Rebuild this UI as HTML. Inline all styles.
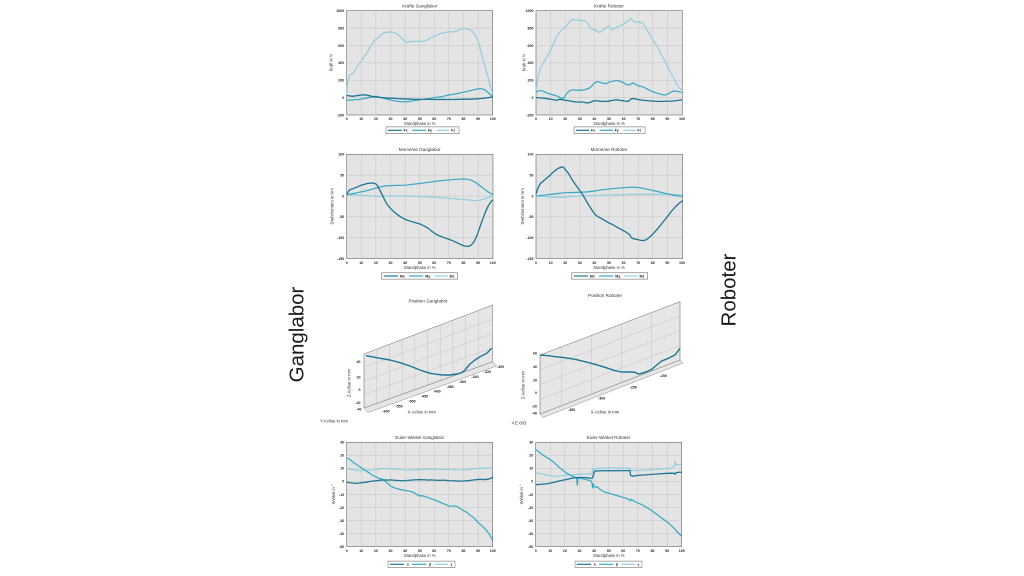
<!DOCTYPE html>
<html><head><meta charset="utf-8"><style>
html,body{margin:0;padding:0;background:#fff;}
svg{display:block;}
text{font-family:"Liberation Sans",sans-serif;}
.t{font-size:4.6px;fill:#333;text-anchor:middle}
.yl{font-size:3.6px;fill:#222;text-anchor:end;font-weight:bold}
.xl{font-size:3.6px;fill:#222;text-anchor:middle;font-weight:bold}
.al{font-size:4.2px;fill:#333;text-anchor:middle}
.lg{font-size:3.6px;fill:#222;font-weight:bold}
.bg{fill:#e4e4e4;stroke:#666;stroke-width:0.6}
.g{stroke:#c3c3c3;stroke-width:0.5;fill:none}
.d{fill:none;stroke:#1c7594;stroke-width:1.3;vector-effect:non-scaling-stroke;stroke-linejoin:round}
.m{fill:none;stroke:#36a7c4;stroke-width:1.2;vector-effect:non-scaling-stroke;stroke-linejoin:round}
.l{fill:none;stroke:#90cee0;stroke-width:1.2;vector-effect:non-scaling-stroke;stroke-linejoin:round}
.big{font-size:20.5px;fill:#1a1a1a;text-anchor:middle}
.wall{fill:#e6e6e6;stroke:#8a8a8a;stroke-width:0.5}
</style></head><body>
<svg width="1024" height="576" viewBox="0 0 1024 576" xmlns="http://www.w3.org/2000/svg">
<rect width="1024" height="576" fill="#fff"/>

<text class="big" transform="translate(303.3,334.5) rotate(-90)">Ganglabor</text>
<text class="big" transform="translate(735.5,290) rotate(-90)">Roboter</text>

<!-- A -->
<g transform="translate(346.7,10.7)">
<rect class="bg" x="0" y="0" width="146" height="104.3"/>
<path class="g" d="M14.6 0V104.3M29.2 0V104.3M43.8 0V104.3M58.4 0V104.3M73 0V104.3M87.6 0V104.3M102.2 0V104.3M116.8 0V104.3M131.4 0V104.3M0 17.38H146M0 34.77H146M0 52.15H146M0 69.53H146M0 86.92H146"/>
<text class="t" x="73" y="-3.2">Kräfte Ganglabor</text>
<text class="yl" x="-2.5" y="1.3">1000</text><text class="yl" x="-2.5" y="18.7">800</text><text class="yl" x="-2.5" y="36.1">600</text><text class="yl" x="-2.5" y="53.5">400</text><text class="yl" x="-2.5" y="70.8">200</text><text class="yl" x="-2.5" y="88.2">0</text><text class="yl" x="-2.5" y="105.6">-200</text>
<text class="xl" x="0" y="109.3">0</text><text class="xl" x="14.6" y="109.3">10</text><text class="xl" x="29.2" y="109.3">20</text><text class="xl" x="43.8" y="109.3">30</text><text class="xl" x="58.4" y="109.3">40</text><text class="xl" x="73" y="109.3">50</text><text class="xl" x="87.6" y="109.3">60</text><text class="xl" x="102.2" y="109.3">70</text><text class="xl" x="116.8" y="109.3">80</text><text class="xl" x="131.4" y="109.3">90</text><text class="xl" x="146" y="109.3">100</text>
<text class="al" x="73" y="114.3">Standphase in %</text>
<text class="al" transform="translate(-14,52) rotate(-90)">Kraft in N</text>
<g transform="translate(0,86.917) scale(1.46,-0.086917)">
<polyline class="l" points="0,40 0.5,150 1,200 2,250 3,270 4,275 5,290 6,320 8,380 10,420 12,470 14,520 16,580 18,630 19,660 20,670 21,680 22,690 23,720 25,740 27,752 30,755 32,752 34,740 36,710 38,680 40,645 42,640 44,648 46,645 48,650 50,645 52,648 54,655 56,670 58,690 60,705 62,720 64,735 66,745 68,752 70,755 72,758 74,760 76,768 78,785 80,795 82,795 84,785 86,765 88,720 90,650 91,600 92,530 93,460 94,400 95,350 96,280 97,220 98,150 99,90 100,50"/>
<polyline class="m" points="0,-35 2,-25 4,-30 6,-20 8,-25 10,-15 12,-10 15,0 18,10 20,15 22,8 25,-5 28,-20 30,-28 33,-38 36,-45 40,-50 43,-45 46,-35 50,-25 54,-15 58,-5 62,5 66,15 70,30 74,40 78,55 82,70 86,85 89,98 91,102 93,100 95,85 97,55 99,25 100,10"/>
<polyline class="d" points="0,25 2,20 4,15 6,20 8,25 10,30 12,32 14,28 16,20 18,12 20,8 24,0 28,-5 32,-8 36,-12 40,-15 44,-18 48,-20 52,-20 56,-20 60,-22 64,-20 68,-22 72,-22 76,-20 80,-18 84,-18 88,-15 92,-10 95,-5 97,0 100,8"/>
</g>
<g transform="translate(39.3,116.2) scale(0.973,1)">
<rect x="0" y="0" width="75" height="6.8" fill="#fff" stroke="#555" stroke-width="0.5"/>
<line x1="2" y1="3.4" x2="16" y2="3.4" stroke="#1c7594" stroke-width="1.2"/><text class="lg" x="18" y="4.7">Fx</text>
<line x1="27" y1="3.4" x2="41" y2="3.4" stroke="#36a7c4" stroke-width="1.2"/><text class="lg" x="43" y="4.7">Fy</text>
<line x1="52" y1="3.4" x2="65" y2="3.4" stroke="#90cee0" stroke-width="1.2"/><text class="lg" x="67" y="4.7">Fz</text>
</g>
</g>

<!-- B -->
<g transform="translate(536,10.7)">
<rect class="bg" x="0" y="0" width="146.3" height="104.3"/>
<path class="g" d="M14.6 0V104.3M29.2 0V104.3M43.8 0V104.3M58.4 0V104.3M73 0V104.3M87.6 0V104.3M102.2 0V104.3M116.8 0V104.3M131.4 0V104.3M0 17.38H146M0 34.77H146M0 52.15H146M0 69.53H146M0 86.92H146"/>
<text class="t" x="73" y="-3.2">Kräfte Roboter</text>
<text class="yl" x="-2.5" y="1.3">1000</text><text class="yl" x="-2.5" y="18.7">800</text><text class="yl" x="-2.5" y="36.1">600</text><text class="yl" x="-2.5" y="53.5">400</text><text class="yl" x="-2.5" y="70.8">200</text><text class="yl" x="-2.5" y="88.2">0</text><text class="yl" x="-2.5" y="105.6">-200</text>
<text class="xl" x="0" y="109.3">0</text><text class="xl" x="14.6" y="109.3">10</text><text class="xl" x="29.2" y="109.3">20</text><text class="xl" x="43.8" y="109.3">30</text><text class="xl" x="58.4" y="109.3">40</text><text class="xl" x="73" y="109.3">50</text><text class="xl" x="87.6" y="109.3">60</text><text class="xl" x="102.2" y="109.3">70</text><text class="xl" x="116.8" y="109.3">80</text><text class="xl" x="131.4" y="109.3">90</text><text class="xl" x="146" y="109.3">100</text>
<text class="al" x="73" y="114.3">Standphase in %</text>
<text class="al" transform="translate(-10.5,52) rotate(-90)">Kraft in N</text>
<g transform="translate(0,86.917) scale(1.463,-0.086917)">
<polyline class="l" points="0,80 1,200 2,280 3,340 5,400 7,450 10,550 12,620 14,700 16,750 18,790 20,815 22,850 24,890 26,900 28,895 30,885 32,890 34,875 35,860 36,840 37,800 38,790 40,780 42,760 43,750 45,765 47,800 49,820 50,825 51,800 52,780 53,790 55,810 57,820 60,850 62,870 64,900 65,910 66,890 67,870 69,870 71,870 73,860 75,800 78,720 80,660 83,590 85,520 88,420 90,360 92,290 94,230 96,160 98,110 100,85"/>
<polyline class="m" points="0,60 2,80 4,80 6,65 8,50 10,40 12,30 15,15 17,-5 18,-12 19,0 20,20 21,50 23,80 25,90 28,85 31,85 34,95 36,105 38,130 40,170 42,185 44,175 46,165 48,160 50,180 52,185 54,195 56,195 58,185 60,170 62,150 64,145 66,170 68,155 70,135 72,130 74,115 76,100 78,80 80,65 82,55 84,45 86,35 88,30 90,40 92,60 94,75 96,75 98,65 100,60"/>
<polyline class="d" points="0,0 3,-3 6,-8 9,-15 12,-25 14,-30 16,-20 18,-25 20,-30 22,-35 25,-45 28,-50 31,-50 33,-55 35,-62 37,-55 39,-40 41,-35 43,-40 45,-45 47,-40 49,-45 51,-35 53,-30 55,-25 57,-30 59,-35 61,-40 63,-45 65,-15 67,-10 69,-20 71,-25 73,-30 76,-35 80,-40 84,-45 88,-42 92,-40 96,-35 100,-25"/>
</g>
<g transform="translate(38,116.2) scale(0.947,1)">
<rect x="0" y="0" width="75" height="6.8" fill="#fff" stroke="#555" stroke-width="0.5"/>
<line x1="2" y1="3.4" x2="16" y2="3.4" stroke="#1c7594" stroke-width="1.2"/><text class="lg" x="18" y="4.7">Fx</text>
<line x1="27" y1="3.4" x2="41" y2="3.4" stroke="#36a7c4" stroke-width="1.2"/><text class="lg" x="43" y="4.7">Fy</text>
<line x1="52" y1="3.4" x2="65" y2="3.4" stroke="#90cee0" stroke-width="1.2"/><text class="lg" x="67" y="4.7">Fz</text>
</g>
</g>

<!-- C -->
<g transform="translate(346.7,154.3)">
<rect class="bg" x="0" y="0" width="146.3" height="104.3"/>
<path class="g" d="M14.6 0V104.3M29.2 0V104.3M43.8 0V104.3M58.4 0V104.3M73 0V104.3M87.6 0V104.3M102.2 0V104.3M116.8 0V104.3M131.4 0V104.3M0 20.86H146M0 41.72H146M0 62.58H146M0 83.44H146"/>
<text class="t" x="73" y="-3.2">Momente Ganglabor</text>
<text class="yl" x="-2.5" y="1.3">100</text><text class="yl" x="-2.5" y="22.2">50</text><text class="yl" x="-2.5" y="43">0</text><text class="yl" x="-2.5" y="63.9">-50</text><text class="yl" x="-2.5" y="84.7">-100</text><text class="yl" x="-2.5" y="105.6">-150</text>
<text class="xl" x="0" y="109.5">0</text><text class="xl" x="14.6" y="109.5">10</text><text class="xl" x="29.2" y="109.5">20</text><text class="xl" x="43.8" y="109.5">30</text><text class="xl" x="58.4" y="109.5">40</text><text class="xl" x="73" y="109.5">50</text><text class="xl" x="87.6" y="109.5">60</text><text class="xl" x="102.2" y="109.5">70</text><text class="xl" x="116.8" y="109.5">80</text><text class="xl" x="131.4" y="109.5">90</text><text class="xl" x="146" y="109.5">100</text>
<text class="al" x="73" y="114.5">Standphase in %</text>
<text class="al" transform="translate(-13,52) rotate(-90)">Drehmoment in Nm</text>
<g transform="translate(0,41.72) scale(1.463,-0.4172)">
<polyline class="l" points="0,3 5,3 10,2 15,1 20,-1 25,-0.5 30,0.5 35,0 40,0 45,-0.5 50,-1 55,-2 60,-3 65,-4 70,-5.5 75,-7 80,-8.5 85,-10 88,-11 91,-10 94,-7 97,-3 100,0"/>
<polyline class="m" points="0,3 3,5 6,7 10,10 14,13 18,17 22,21 26,24 30,25 35,25.5 40,26 45,28 50,30 55,32.5 60,35 65,37 70,38.5 75,40 80,41 83,40 85,38 88,33 91,25 94,17 97,9 100,3"/>
<polyline class="d" points="0,3 1,10 2,15 4,17 6,20 8,23 10,26 12,28 14,30 16,31 18,31 19,30 20,29 21,25 22,18 24,5 26,-10 28,-22 30,-30 33,-40 36,-48 40,-56 43,-60 46,-63 50,-67 53,-72 56,-78 58,-84 60,-89 63,-95 66,-99 70,-104 73,-108 76,-113 79,-118 81,-120 83,-121 85,-118 87,-110 89,-95 91,-75 93,-55 95,-37 97,-22 99,-12 100,-9"/>
</g>
<g transform="translate(35,118.5) scale(1.013,1)">
<rect x="0" y="0" width="75" height="6.3" fill="#fff" stroke="#555" stroke-width="0.5"/>
<line x1="2" y1="3.2" x2="16" y2="3.2" stroke="#1c7594" stroke-width="1.2"/><text class="lg" x="18" y="4.5">Mx</text>
<line x1="27" y1="3.2" x2="41" y2="3.2" stroke="#36a7c4" stroke-width="1.2"/><text class="lg" x="43" y="4.5">My</text>
<line x1="52" y1="3.2" x2="65" y2="3.2" stroke="#90cee0" stroke-width="1.2"/><text class="lg" x="67" y="4.5">Mz</text>
</g>
</g>

<!-- D -->
<g transform="translate(536,154.3)">
<rect class="bg" x="0" y="0" width="146.7" height="104.3"/>
<path class="g" d="M14.6 0V104.3M29.2 0V104.3M43.8 0V104.3M58.4 0V104.3M73 0V104.3M87.6 0V104.3M102.2 0V104.3M116.8 0V104.3M131.4 0V104.3M0 20.86H146M0 41.72H146M0 62.58H146M0 83.44H146"/>
<text class="t" x="73" y="-3.2">Momente Roboter</text>
<text class="yl" x="-2.5" y="1.3">100</text><text class="yl" x="-2.5" y="22.2">50</text><text class="yl" x="-2.5" y="43">0</text><text class="yl" x="-2.5" y="63.9">-50</text><text class="yl" x="-2.5" y="84.7">-100</text><text class="yl" x="-2.5" y="105.6">-150</text>
<text class="xl" x="0" y="109.5">0</text><text class="xl" x="14.6" y="109.5">10</text><text class="xl" x="29.2" y="109.5">20</text><text class="xl" x="43.8" y="109.5">30</text><text class="xl" x="58.4" y="109.5">40</text><text class="xl" x="73" y="109.5">50</text><text class="xl" x="87.6" y="109.5">60</text><text class="xl" x="102.2" y="109.5">70</text><text class="xl" x="116.8" y="109.5">80</text><text class="xl" x="131.4" y="109.5">90</text><text class="xl" x="146" y="109.5">100</text>
<text class="al" x="73" y="114.5">Standphase in %</text>
<text class="al" transform="translate(-12,52) rotate(-90)">Drehmoment in Nm</text>
<g transform="translate(0,41.72) scale(1.467,-0.4172)">
<polyline class="l" points="0,0 5,-1 10,-3 15,-3 20,-3 25,-1 30,0 35,0.5 40,1 45,2 50,2.5 55,3 60,3.5 65,4 70,4 75,4 80,4 85,4 90,4 95,3.5 100,3"/>
<polyline class="m" points="0,0 5,2 10,4 15,6 20,8 25,8.5 30,9 35,10 40,12 45,15 50,17 55,18.5 60,20 65,21 68,21 72,19 76,16 80,13 85,9 90,5 95,1 100,-1"/>
<polyline class="d" points="0,5 1,15 2,24 3,30 5,36 7,42 9,48 11,55 13,61 15,66 17,69 18,70 19,68 20,63 22,55 24,43 26,32 28,22 30,12 32,2 34,-10 36,-22 38,-33 40,-43 42,-49 45,-55 48,-61 50,-65 52,-68 55,-74 58,-80 60,-84 62,-88 64,-93 65,-100 67,-103 69,-104 71,-106 73,-107 75,-105 77,-100 80,-90 83,-78 86,-65 89,-52 92,-38 95,-26 98,-16 100,-11"/>
</g>
<g transform="translate(35.7,118.5) scale(1.013,1)">
<rect x="0" y="0" width="75" height="6.3" fill="#fff" stroke="#555" stroke-width="0.5"/>
<line x1="2" y1="3.2" x2="16" y2="3.2" stroke="#1c7594" stroke-width="1.2"/><text class="lg" x="18" y="4.5">Mx</text>
<line x1="27" y1="3.2" x2="41" y2="3.2" stroke="#36a7c4" stroke-width="1.2"/><text class="lg" x="43" y="4.5">My</text>
<line x1="52" y1="3.2" x2="65" y2="3.2" stroke="#90cee0" stroke-width="1.2"/><text class="lg" x="67" y="4.5">Mz</text>
</g>
</g>

<!-- Position Ganglabor -->
<g>
<text class="t" x="428" y="302.5">Position Ganglabor</text>
<polygon class="wall" points="364,408 492.7,361.7 496.7,366 368,412.5"/>
<polygon class="wall" points="364,354 492.7,305 492.7,361.7 364,408"/>
<path class="g" d="M376.7 349.17L376.7 403.43M389.4 344.33L389.4 398.86M402.1 339.5L402.1 394.28M414.8 334.66L414.8 389.71M427.5 329.83L427.5 385.14M440.2 324.99L440.2 380.57M452.9 320.16L452.9 376M465.6 315.32L465.6 371.42M478.3 310.49L478.3 366.85M364 367.5L492.7 319.2M364 381L492.7 333.4M364 394.5L492.7 347.5"/>
<polygon points="364,354 492.7,305 492.7,361.7 364,408" fill="none" stroke="#8a8a8a" stroke-width="0.5"/>
<polyline fill="none" stroke="#1c7594" stroke-width="1.4" stroke-linejoin="round" points="366,355.7 376.7,357.7 390,360 400,362.7 410,366 420,370 430,373.3 436.7,374.3 443.3,375 450,375 456.7,374 461.7,372.7 465,370 470,364 475,360 480,356.7 486.7,353.3 491.7,348.3"/>
<text class="yl" x="360.5" y="362.8">40</text><text class="yl" x="360.5" y="378.5">20</text><text class="yl" x="360.5" y="391.2">0</text><text class="yl" x="360.5" y="403.9">-20</text><text class="yl" x="361.5" y="410.5">-40</text>
<text class="xl" x="386" y="412.5">-600</text><text class="xl" x="399" y="407.5">-550</text><text class="xl" x="412" y="402.5">-500</text><text class="xl" x="424.5" y="397.5">-450</text><text class="xl" x="437" y="392.5">-400</text><text class="xl" x="450" y="388">-380</text><text class="xl" x="462.5" y="383">-360</text><text class="xl" x="475" y="378">-340</text><text class="xl" x="487.5" y="373">-320</text><text class="xl" x="500.5" y="368">-300</text>
<text class="al" x="421.7" y="413.5">X-Achse in mm</text>
<text class="al" transform="translate(350.5,383) rotate(-90)">Z-Achse in mm</text>
<text class="al" x="334" y="422.5">Y-Achse in mm</text>
<text class="al" x="519" y="424.5">4 E-003</text>
</g>

<!-- Position Roboter -->
<g>
<text class="t" x="605" y="297">Position Roboter</text>
<polygon class="wall" points="540,414 680,360 683,363 543,417.5"/>
<polygon class="wall" points="540,355 680,301.7 680,360 540,414"/>
<path class="g" d="M561.7 346.74L561.7 405.63M591.7 335.32L591.7 394.06M621.7 323.9L621.7 382.49M651.7 312.48L651.7 370.92M540 369.75L680 316.1M540 384.5L680 330.8M540 399.25L680 345.5"/>
<polygon points="540,355 680,301.7 680,360 540,414" fill="none" stroke="#8a8a8a" stroke-width="0.5"/>
<polyline fill="none" stroke="#1c7594" stroke-width="1.4" stroke-linejoin="round" points="540,355 548.3,355.7 555,356.7 565,357.7 575,359.3 585,361.7 595,364.3 605,367.3 615,370.7 621.7,372 628.3,372 635,372.3 638.3,374 641.7,373.3 646.7,371.7 651.7,369.3 656.7,365 661.7,361 668.3,358.3 675,355 680,348.3"/>
<text class="yl" x="537" y="354.6">60</text><text class="yl" x="537" y="368">40</text><text class="yl" x="537" y="381.3">20</text><text class="yl" x="537" y="394">0</text><text class="yl" x="537" y="407.3">-20</text><text class="yl" x="537" y="414.5">-40</text>
<text class="xl" x="571.7" y="411">-350</text><text class="xl" x="601.7" y="399.5">-300</text><text class="xl" x="633.3" y="388.5">-250</text><text class="xl" x="663.3" y="377">-200</text>
<text class="al" x="605" y="413.5">X-Achse in mm</text>
<text class="al" transform="translate(524.5,385) rotate(-90)">Z-Achse in mm</text>
</g>

<!-- E -->
<g transform="translate(346.7,442.3)">
<rect class="bg" x="0" y="0" width="146" height="104.3"/>
<path class="g" d="M14.6 0V104.3M29.2 0V104.3M43.8 0V104.3M58.4 0V104.3M73 0V104.3M87.6 0V104.3M102.2 0V104.3M116.8 0V104.3M131.4 0V104.3M0 13.04H146M0 26.08H146M0 39.11H146M0 52.15H146M0 65.19H146M0 78.23H146M0 91.26H146"/>
<text class="t" x="73" y="-3.5">Euler-Winkel Ganglabor</text>
<text class="yl" x="-2.5" y="1.3">30</text><text class="yl" x="-2.5" y="14.3">20</text><text class="yl" x="-2.5" y="27.4">10</text><text class="yl" x="-2.5" y="40.4">0</text><text class="yl" x="-2.5" y="53.5">-10</text><text class="yl" x="-2.5" y="66.5">-20</text><text class="yl" x="-2.5" y="79.5">-30</text><text class="yl" x="-2.5" y="92.6">-40</text><text class="yl" x="-2.5" y="105.6">-50</text>
<text class="xl" x="0" y="109.5">0</text><text class="xl" x="14.6" y="109.5">10</text><text class="xl" x="29.2" y="109.5">20</text><text class="xl" x="43.8" y="109.5">30</text><text class="xl" x="58.4" y="109.5">40</text><text class="xl" x="73" y="109.5">50</text><text class="xl" x="87.6" y="109.5">60</text><text class="xl" x="102.2" y="109.5">70</text><text class="xl" x="116.8" y="109.5">80</text><text class="xl" x="131.4" y="109.5">90</text><text class="xl" x="146" y="109.5">100</text>
<text class="al" x="73" y="114.5">Standphase in %</text>
<text class="al" transform="translate(-11.5,52) rotate(-90)">Winkel in °</text>
<g transform="translate(0,39.11) scale(1.46,-1.30375)">
<polyline class="l" points="0,10 2,9.5 4,9 5,9.2 6,8.3 8,8.5 10,8.2 12,8.8 14,8.4 16,8.7 18,8.9 20,9.2 22,9.5 24,9.8 26,10 28,9.6 30,9.8 32,9.4 34,9.7 36,9.3 38,9 40,8.5 42,8.7 44,8.8 46,9 48,9.1 50,9 52,9.3 54,9.2 56,9.4 58,9.3 60,9.2 62,9.4 64,9.1 66,9.3 68,9.1 70,9.2 72,9 74,9.1 76,8.9 78,8.8 80,8.5 82,9 84,9.3 86,9.5 88,9.8 90,10 92,10.1 94,10 96,10.3 98,10.5 100,10.8"/>
<polyline class="m" points="0,18 2,17 4,15 6,13.5 8,12 10,10.5 12,9 14,7.5 16,6 18,4.5 20,3.5 22,2.5 24,1.8 26,0.5 28,-1.5 30,-3.5 32,-4.5 34,-5.5 36,-6 38,-6.5 40,-7 42,-7.3 44,-7.8 46,-8.5 48,-10 50,-11.2 52,-11 54,-11.8 56,-12.5 58,-13.5 60,-14 62,-15 64,-16 66,-17 68,-17.8 70,-18.8 72,-19 74,-18.8 76,-19.5 78,-21 80,-22.5 82,-23.5 84,-25.5 86,-27 88,-29 90,-31.5 92,-33.5 94,-35.5 96,-38 98,-41 99,-43 100,-45.5"/>
<polyline class="d" points="0,-0.5 2,-1 4,-1.2 6,-1.5 8,-1.3 10,-1 12,-0.8 14,-0.5 16,0 18,0.3 20,0.5 22,0.8 24,1 26,1.2 28,1 30,1.2 32,1 34,0.8 36,0.7 38,0.5 40,0.6 42,0.8 44,1 46,1.2 48,1.3 50,1.4 52,1.3 54,1.2 56,1 58,1.2 60,1 62,0.9 64,0.8 66,1 68,0.8 70,0.6 72,0.5 74,0.4 76,0.3 78,0.2 80,0.3 82,0.5 84,0.7 86,1 88,1.3 90,1.5 92,1.5 94,1.4 96,1.6 98,2 99,2.5 100,3.5"/>
</g>
<g transform="translate(41.3,118.8) scale(0.893,1)">
<rect x="0" y="0" width="75" height="6.3" fill="#fff" stroke="#555" stroke-width="0.5"/>
<line x1="2" y1="3.2" x2="18" y2="3.2" stroke="#1c7594" stroke-width="1.2"/><text class="lg" x="21" y="4.5">α</text>
<line x1="27" y1="3.2" x2="43" y2="3.2" stroke="#36a7c4" stroke-width="1.2"/><text class="lg" x="46" y="4.5">β</text>
<line x1="52" y1="3.2" x2="67" y2="3.2" stroke="#90cee0" stroke-width="1.2"/><text class="lg" x="70" y="4.5">γ</text>
</g>
</g>

<!-- F -->
<g transform="translate(535.7,442.3)">
<rect class="bg" x="0" y="0" width="146" height="104.3"/>
<path class="g" d="M14.6 0V104.3M29.2 0V104.3M43.8 0V104.3M58.4 0V104.3M73 0V104.3M87.6 0V104.3M102.2 0V104.3M116.8 0V104.3M131.4 0V104.3M0 13.04H146M0 26.08H146M0 39.11H146M0 52.15H146M0 65.19H146M0 78.23H146M0 91.26H146"/>
<text class="t" x="73" y="-3.5">Euler-Winkel Roboter</text>
<text class="yl" x="-2.5" y="1.3">30</text><text class="yl" x="-2.5" y="14.3">20</text><text class="yl" x="-2.5" y="27.4">10</text><text class="yl" x="-2.5" y="40.4">0</text><text class="yl" x="-2.5" y="53.5">-10</text><text class="yl" x="-2.5" y="66.5">-20</text><text class="yl" x="-2.5" y="79.5">-30</text><text class="yl" x="-2.5" y="92.6">-40</text><text class="yl" x="-2.5" y="105.6">-50</text>
<text class="xl" x="0" y="109.5">0</text><text class="xl" x="14.6" y="109.5">10</text><text class="xl" x="29.2" y="109.5">20</text><text class="xl" x="43.8" y="109.5">30</text><text class="xl" x="58.4" y="109.5">40</text><text class="xl" x="73" y="109.5">50</text><text class="xl" x="87.6" y="109.5">60</text><text class="xl" x="102.2" y="109.5">70</text><text class="xl" x="116.8" y="109.5">80</text><text class="xl" x="131.4" y="109.5">90</text><text class="xl" x="146" y="109.5">100</text>
<text class="al" x="73" y="114.5">Standphase in %</text>
<text class="al" transform="translate(-12.5,52) rotate(-90)">Winkel in °</text>
<g transform="translate(0,39.11) scale(1.46,-1.30375)">
<polyline class="l" points="0,6.5 3,6 6,5.3 9,4.5 12,4 15,4 18,4.3 21,4.8 24,5 27,5.2 30,5.5 33,5.6 36,5.7 38.5,5.8 39,10 39.5,7 40,8 41,9.5 42,10 45,10.2 50,10.3 55,10.3 60,10.2 64.5,10.2 65,8.2 68,8.3 71,8.5 74,8.7 77,8.8 80,9 83,9.3 86,9.5 89,9.8 92,10 94,10.3 95,12 95.5,15.5 96,13 97,12.5 98,12.8 100,12.5"/>
<polyline class="m" points="0,24.5 3,22 6,19.5 9,17.5 12,15 15,12 18,9 21,6.5 24,4.5 26,3.5 27.5,3 28,2.8 28.5,-3 29,2.5 30,2.5 32,2 34,1.5 36,1 38,0.3 38.5,-1 39,-5 39.5,-2 40,-3.5 41,-4.5 42,-4 44,-6 46,-7.5 48,-8.5 50,-9 53,-10 56,-11 59,-12 62,-13 64,-14 65,-15 65.5,-13.5 66,-14 68,-15.5 70,-16.5 73,-18 76,-20 79,-22 82,-24.5 85,-27 88,-29.5 91,-32 94,-35 96,-37.5 98,-40 100,-42"/>
<polyline class="d" points="0,-2.5 3,-2.3 6,-2 9,-1.6 12,-0.8 15,0 18,0.8 21,1.5 24,2.2 27,2.8 29,3 31,3 33,3 35,2.8 37,2.5 38.5,2.3 39,3 39.5,5 40,6.5 40.5,7.8 41,8 45,8.2 50,8.3 55,8.2 60,8.3 64.5,8.3 65,4.5 67,4 69,4.5 72,4.8 75,5 78,5.3 81,5.5 84,5.8 87,6 90,6.2 93,6.3 95,6.2 95.5,5.5 96,6.5 98,7 100,7"/>
</g>
<g transform="translate(39.3,118.8) scale(0.893,1)">
<rect x="0" y="0" width="75" height="6.3" fill="#fff" stroke="#555" stroke-width="0.5"/>
<line x1="2" y1="3.2" x2="18" y2="3.2" stroke="#1c7594" stroke-width="1.2"/><text class="lg" x="21" y="4.5">α</text>
<line x1="27" y1="3.2" x2="43" y2="3.2" stroke="#36a7c4" stroke-width="1.2"/><text class="lg" x="46" y="4.5">β</text>
<line x1="52" y1="3.2" x2="67" y2="3.2" stroke="#90cee0" stroke-width="1.2"/><text class="lg" x="70" y="4.5">γ</text>
</g>
</g>
</svg>
</body></html>
